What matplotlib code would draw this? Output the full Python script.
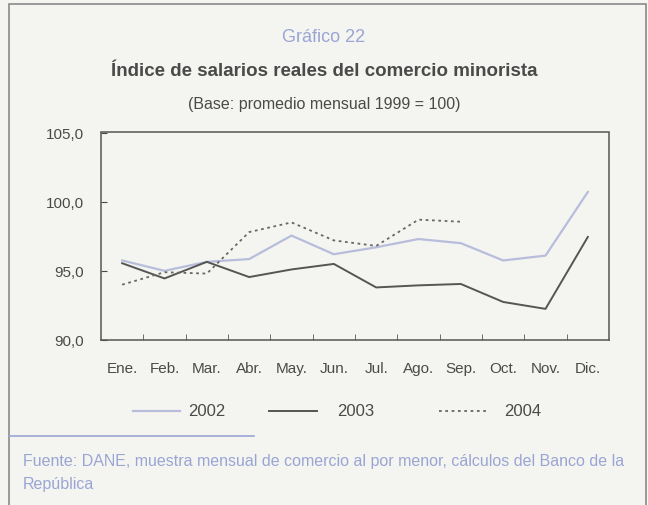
import matplotlib

matplotlib.use("Agg")
import matplotlib.pyplot as plt
from matplotlib.lines import Line2D
from matplotlib.patches import Rectangle

# ---------------------------------------------------------------------------
# Data
# ---------------------------------------------------------------------------

months = ["Ene.", "Feb.", "Mar.", "Abr.", "May.", "Jun.",
          "Jul.", "Ago.", "Sep.", "Oct.", "Nov.", "Dic."]
s2002 = [95.75, 95.0, 95.65, 95.85, 97.55, 96.2, 96.7, 97.3, 97.0, 95.75, 96.1, 100.7]
s2003 = [95.55, 94.45, 95.65, 94.55, 95.1, 95.5, 93.8, 93.95, 94.05, 92.75, 92.25, 97.45]
s2004 = [94.0, 94.9, 94.8, 97.8, 98.5, 97.2, 96.8, 98.7, 98.55]
yticks = [90, 95, 100, 105]

C2002 = "#b7bddb"
C2003 = "#555555"
C2004 = "#666666"
BLUE = "#9aa5d4"
TXT = "#4a4a4a"
BG = "#f4f5f0"

plt.rcParams["font.family"] = ["Liberation Sans", "DejaVu Sans"]

fig = plt.figure(figsize=(6.48, 5.06), dpi=100)
fig.patch.set_facecolor(BG)

W, H = 648, 506


def fx(px):
    return px / W


def fy(py):
    return 1 - py / H


# outer frame
fig.patches.append(Rectangle((fx(9), fy(520)), fx(637), (520 - 5) / H,
                             transform=fig.transFigure, fill=False,
                             edgecolor="#8a8a8a", linewidth=1.2))

fig.text(0.5, fy(38), "Gráfico 22", ha="center", va="center",
         fontsize=13, color=BLUE)
fig.text(0.5, fy(72), "Índice de salarios reales del comercio minorista",
         ha="center", va="center", fontsize=13.5, fontweight="bold", color=TXT)
fig.text(0.5, fy(104), "(Base: promedio mensual 1999 = 100)", ha="center",
         va="center", fontsize=11.5, color=TXT)

ax = fig.add_axes([fx(101), fy(341), fx(609 - 101), (341 - 133.5) / H])
ax.set_facecolor(BG)
x = list(range(len(months)))
ax.plot(x, s2002, color=C2002, linewidth=1.6)
ax.plot(x, s2003, color=C2003, linewidth=1.4)
ax.plot(x[:len(s2004)], s2004, color=C2004, linewidth=1.3, linestyle=(0, (1.5, 2)))

ax.set_xlim(-0.5, len(months) - 0.5)
ax.set_ylim(90, 105)
ax.set_yticks(yticks)
ax.set_yticklabels([f"{v:.1f}".replace(".", ",") for v in yticks])
ax.set_xticks(x)
ax.set_xticklabels(months)
ax.set_xticks([i + 0.5 for i in x[:-1]], minor=True)
ax.tick_params(axis="x", which="major", length=0, pad=15, labelsize=11, colors=TXT)
ax.tick_params(axis="x", which="minor", direction="in", length=4, color="#555555")
ax.tick_params(axis="y", direction="in", length=4, labelsize=11, colors=TXT, pad=12)
for sp in ax.spines.values():
    sp.set_color("#555555")
    sp.set_linewidth(1.1)

# legend drawn by hand to match spacing
ly = fy(412)
for (x0, x1, tx, lab, col, ls, lw) in [
    (133, 180, 188, "2002", C2002, "-", 1.6),
    (269, 317, 337, "2003", C2003, "-", 1.4),
    (439, 487, 504, "2004", C2004, (0, (1.5, 2)), 1.3),
]:
    fig.lines.append(Line2D([fx(x0), fx(x1)], [ly, ly], transform=fig.transFigure,
                            color=col, linestyle=ls, linewidth=lw))
    fig.text(fx(tx), ly, lab, ha="left", va="center", fontsize=12, color=TXT)

# footnote rule and source
fig.lines.append(Line2D([fx(9), fx(254)], [fy(437), fy(437)], transform=fig.transFigure,
                        color=BLUE, linewidth=1.2))
fig.text(fx(23), fy(462),
         "Fuente: DANE, muestra mensual de comercio al por menor, cálculos del Banco de la",
         ha="left", va="center", fontsize=11.5, color=BLUE)
fig.text(fx(23), fy(485), "República", ha="left", va="center", fontsize=11.5, color=BLUE)

fig.savefig("out.png", dpi=100, facecolor=BG)
